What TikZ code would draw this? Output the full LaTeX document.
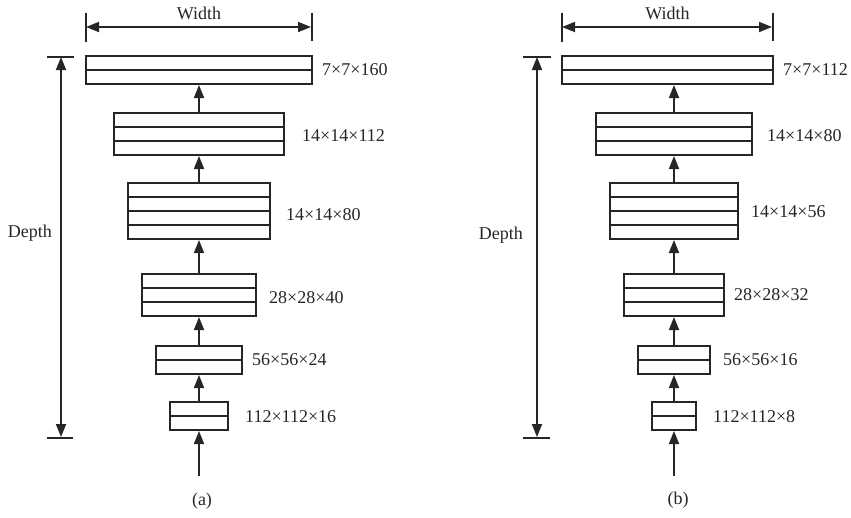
\documentclass[tikz,border=0pt]{standalone}
\usepackage{fontspec}
\setmainfont{Liberation Serif}
\usetikzlibrary{arrows.meta,positioning,calc}

\begin{document}
\begin{tikzpicture}[x=1pt,y=-1pt,>={Triangle[length=13pt,width=10pt]},shorten >=1pt,
	layer/.style={draw=black!85,line width=2pt,inner sep=0pt,outer sep=0pt,minimum height=14pt*#1},
	rowline/.style={draw=black!85,line width=2pt},
	conn/.style={color=black!85,line width=1.8pt},
	dimtext/.style={font=\fontsize{18}{20}\selectfont,text=black!85,inner sep=0pt}]

\useasboundingbox (0,0) rectangle (851,517);

% ---- (a) ----
\node[layer=2,minimum width=226pt]   (a1) at (199,70)   {};
\node[layer=3,minimum width=170pt]   (a2)[below=29pt of a1]  {};
\node[layer=4,minimum width=142pt]   (a3)[below=28pt of a2]  {};
\node[layer=3,minimum width=114pt]   (a4)[below=35pt of a3]  {};
\node[layer=2,minimum width=86pt]    (a5)[below=30pt of a4]  {};
\node[layer=2,minimum width=58pt]    (a6)[below=28pt of a5]  {};
\coordinate[below=46pt of a6] (ain);

\node[dimtext]   (a1l)[right=10pt of a1]               {7×7×160};
\node[dimtext]   (a2l)[right=18pt of a2,yshift=-2pt]   {14×14×112};
\node[dimtext]   (a3l)[right=16pt of a3,yshift=-4pt]   {14×14×80};
\node[dimtext]   (a4l)[right=13pt of a4,yshift=-3pt]   {28×28×40};
\node[dimtext]   (a5l)[right=10pt of a5]               {56×56×24};
\node[dimtext]   (a6l)[right=17pt of a6,yshift=-1pt]   {112×112×16};

\path[conn,->] (ain) edge (a6)
               (a6)  edge (a5)
               (a5)  edge (a4)
               (a4)  edge (a3)
               (a3)  edge (a2)
               (a2)  edge (a1);

% width and depth of (a)
\coordinate (awl) at ([yshift=29pt]a1.north west);
\coordinate (awr) at ([yshift=29pt]a1.north east);
\draw[conn,<->] (awl) -- (awr);
\draw[conn] ([yshift=14.5pt]awl) -- ([yshift=-14.5pt]awl)
            ([yshift=14.5pt]awr) -- ([yshift=-14.5pt]awr);
\node[dimtext,above=7pt] (awt) at ($(awl)!0.5!(awr)$) {Width};

\coordinate (adt) at (61,57);
\coordinate (adb) at (61,438);
\draw[conn,<->] (adt) -- (adb);
\draw[conn] ([xshift=-14pt]adt) -- ([xshift=13pt]adt)
            ([xshift=-14pt]adb) -- ([xshift=13pt]adb);
\node[dimtext,anchor=east] (adl) at (52,233) {Depth};

\node[dimtext] (acap) at (202,501) {(a)};

% ---- (b) ----
\node[layer=2,minimum width=211pt]   (b1) at (667.5,70) {};
\node[layer=3,minimum width=156pt]   (b2)[below=29pt of b1,xshift=6.5pt] {};
\node[layer=4,minimum width=128pt]   (b3)[below=28pt of b2]  {};
\node[layer=3,minimum width=100pt]   (b4)[below=35pt of b3]  {};
\node[layer=2,minimum width=72pt]    (b5)[below=30pt of b4]  {};
\node[layer=2,minimum width=44pt]    (b6)[below=28pt of b5]  {};
\coordinate[below=46pt of b6] (bin);

\node[dimtext]   (b1l)[right=10pt of b1]              {7×7×112};
\node[dimtext]   (b2l)[right=15pt of b2,yshift=-2pt]  {14×14×80};
\node[dimtext]   (b3l)[right=13pt of b3,yshift=-1pt]  {14×14×56};
\node[dimtext]   (b4l)[right=10pt of b4]              {28×28×32};
\node[dimtext]   (b5l)[right=13pt of b5]              {56×56×16};
\node[dimtext]   (b6l)[right=17pt of b6,yshift=-1pt]  {112×112×8};

\path[conn,->] (bin) edge (b6)
               (b6)  edge (b5)
               (b5)  edge (b4)
               (b4)  edge (b3)
               (b3)  edge (b2)
               (b2.north) edge (b2.north |- b1.south);

% width and depth of (b)
\coordinate (bwl) at ([yshift=29pt]b1.north west);
\coordinate (bwr) at ([yshift=29pt]b1.north east);
\draw[conn,<->] (bwl) -- (bwr);
\draw[conn] ([yshift=14.5pt]bwl) -- ([yshift=-14.5pt]bwl)
            ([yshift=14.5pt]bwr) -- ([yshift=-14.5pt]bwr);
\node[dimtext,above=7pt] (bwt) at ($(bwl)!0.5!(bwr)$) {Width};

\coordinate (bdt) at (537,57);
\coordinate (bdb) at (537,438);
\draw[conn,<->] (bdt) -- (bdb);
\draw[conn] ([xshift=-14pt]bdt) -- ([xshift=14pt]bdt)
            ([xshift=-14pt]bdb) -- ([xshift=14pt]bdb);
\node[dimtext,anchor=east] (bdl) at (523,235) {Depth};

\node[dimtext] (bcap) at (678,500) {(b)};

% rows inside every layer
\foreach \n/\r in {a1/2,a2/3,a3/4,a4/3,a5/2,a6/2,b1/2,b2/3,b3/4,b4/3,b5/2,b6/2}{
	\pgfmathtruncatemacro\last{\r-1}
	\foreach \k in {1,...,\last}
		\draw[rowline] ($(\n.north west)!\k/\r!(\n.south west)$) -- ($(\n.north east)!\k/\r!(\n.south east)$);
}

\end{tikzpicture}
\end{document}
